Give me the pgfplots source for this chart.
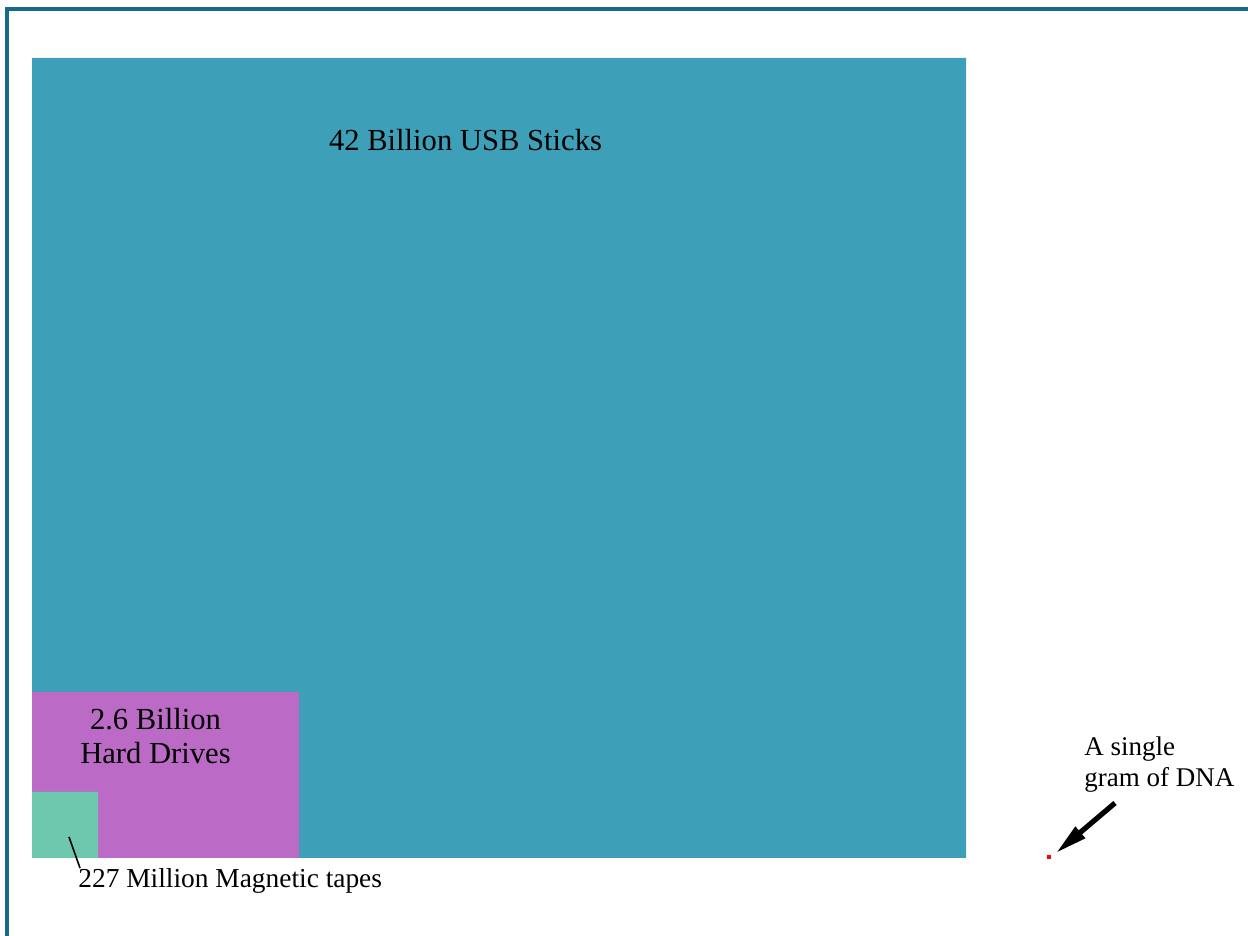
\documentclass[border=0pt]{standalone}
\usepackage{pgfplots}
\pgfplotsset{compat=1.18}
\usepackage{fontspec}
\setmainfont{Liberation Serif}
\usetikzlibrary{arrows.meta}
\definecolor{usb}{RGB}{62,159,184}
\definecolor{hdd}{RGB}{187,107,197}
\definecolor{tape}{RGB}{109,200,173}
\definecolor{frame}{RGB}{24,106,138}
\begin{document}
\begin{tikzpicture}
\useasboundingbox (0,0) rectangle (624bp,468bp);
\clip (0,0) rectangle (624bp,468bp);
\begin{axis}[
  at={(0,0)}, anchor=south west,
  width=624bp, height=468bp, scale only axis,
  xmin=0, xmax=1248, ymin=0, ymax=936,
  hide axis, clip=false,
]
% frame
\addplot[draw=frame, line width=1.6bp] coordinates {(7,-200) (7,927) (1500,927)};
% USB sticks
\addplot[fill=usb, draw=none] coordinates {(32,78) (966,78) (966,878) (32,878) (32,78)};
% Hard drives
\addplot[fill=hdd, draw=none] coordinates {(32,78) (299,78) (299,244) (32,244) (32,78)};
% Magnetic tapes
\addplot[fill=tape, draw=none] coordinates {(32,78) (98,78) (98,144) (32,144) (32,78)};
% Single gram of DNA
\addplot[only marks, mark=square*, mark size=0.7bp, color=red] coordinates {(1049,79)};

\node[anchor=base, font=\fontsize{15.3bp}{17bp}\selectfont] at (axis cs:465.5,785) {42 Billion USB Sticks};
\node[anchor=base, font=\fontsize{15.3bp}{17bp}\selectfont] at (axis cs:155.5,206) {2.6 Billion};
\node[anchor=base, font=\fontsize{15.3bp}{17bp}\selectfont] at (axis cs:155.5,172) {Hard Drives};
\draw[black, line width=0.8bp] (axis cs:69,99) -- (axis cs:80,68);
\node[anchor=base west, inner sep=0pt, font=\fontsize{13.7bp}{15.5bp}\selectfont] at (axis cs:78,48) {227 Million Magnetic tapes};
\node[anchor=base west, inner sep=0pt, font=\fontsize{13.5bp}{15.5bp}\selectfont] at (axis cs:1084,180) {A single};
\node[anchor=base west, inner sep=0pt, font=\fontsize{13.5bp}{15.5bp}\selectfont] at (axis cs:1084,149) {gram of DNA};
\draw[black, line width=2.6bp, -{Triangle[length=16bp,width=7bp]}] (axis cs:1115,133) -- (axis cs:1056,83);
\end{axis}
\end{tikzpicture}
\end{document}
